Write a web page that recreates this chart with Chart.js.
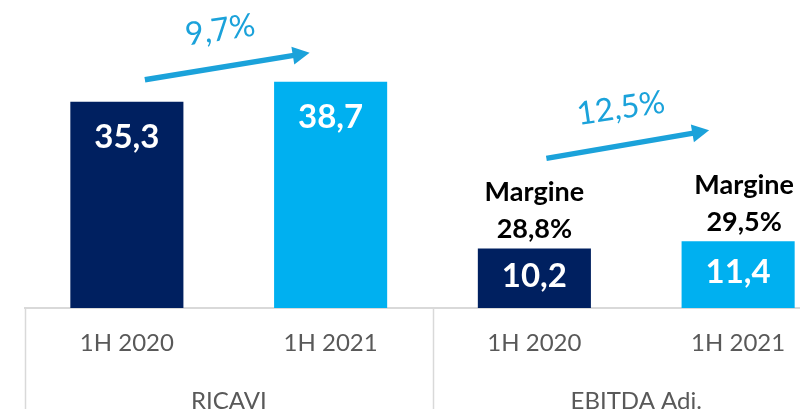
<!DOCTYPE html>
<html>
<head>
<meta charset="utf-8">
<script src="https://cdn.jsdelivr.net/npm/chart.js@4.4.0/dist/chart.umd.min.js"></script>
<style>
  html, body { margin: 0; padding: 0; background: #ffffff; overflow: hidden; width: 800px; height: 409px; }
  #wrap { width: 840px; height: 409px; }
</style>
</head>
<body>
<div id="wrap"><canvas id="c" width="840" height="409"></canvas></div>
<script>
// ---- data ----
const categories = ['1H 2020', '1H 2021', '1H 2020', '1H 2021'];
const groups = ['RICAVI', 'EBITDA Adj.'];
const values = [35.3, 38.7, 10.2, 11.4];
const margins = [null, null, '28,8%', '29,5%'];
const growthLabels = ['9,7%', '12,5%'];
const growthPairs = [[0, 1], [2, 3]];

// ---- style ----
const DARK = '#002060';
const LIGHT = '#00B0F0';
const ARROW = '#1ba2da';
const barColors = [DARK, LIGHT, DARK, LIGHT];
const arrowOffsets = [
  { sx: 18, sy: -22, ex: -21, ey: -29 },
  { sx: 12, sy: -90, ex: -29, ey: -111 }
];

function fmt(v) { return v.toFixed(1).replace('.', ','); }

const annot = {
  id: 'annot',
  afterDatasetsDraw(chart) {
    const ctx = chart.ctx;
    const bars = chart.getDatasetMeta(0).data;
    ctx.save();
    // value labels inside bars
    ctx.textAlign = 'center';
    ctx.textBaseline = 'middle';
    ctx.fillStyle = '#ffffff';
    ctx.font = 'bold 33px Lato';
    bars.forEach((b, i) => {
      const mid = (b.y + b.base) / 2;
      const y = Math.min(b.y + 36, mid - 2);
      ctx.fillText(fmt(values[i]), b.x, y);
    });
    // margin labels
    ctx.fillStyle = '#000000';
    ctx.font = 'bold 27px Lato';
    bars.forEach((b, i) => {
      if (!margins[i]) return;
      const dx = i === 3 ? 6 : 0;
      ctx.fillText('Margine', b.x + dx, b.y - 56);
      ctx.fillText(margins[i], b.x + dx, b.y - 19);
    });
    // growth arrows
    growthPairs.forEach((p, k) => {
      const a = bars[p[0]], b = bars[p[1]], o = arrowOffsets[k];
      const x1 = a.x + o.sx, y1 = a.y + o.sy;
      const x2 = b.x + o.ex, y2 = b.y + o.ey;
      const ang = Math.atan2(y2 - y1, x2 - x1);
      const headLen = 17, headW = 9;
      const bx = x2 - headLen * Math.cos(ang), by = y2 - headLen * Math.sin(ang);
      ctx.strokeStyle = ARROW;
      ctx.fillStyle = ARROW;
      ctx.lineWidth = 5.5;
      ctx.lineCap = 'butt';
      ctx.beginPath();
      ctx.moveTo(x1, y1);
      ctx.lineTo(bx + 1 * Math.cos(ang), by + 1 * Math.sin(ang));
      ctx.stroke();
      ctx.beginPath();
      ctx.moveTo(x2, y2);
      ctx.lineTo(bx + headW * Math.sin(ang), by - headW * Math.cos(ang));
      ctx.lineTo(bx - headW * Math.sin(ang), by + headW * Math.cos(ang));
      ctx.closePath();
      ctx.fill();
      // label
      const mx = (x1 + x2) / 2, my = (y1 + y2) / 2;
      ctx.save();
      ctx.translate(mx - 7, my - 36);
      ctx.rotate(-8.3 * Math.PI / 180);
      ctx.font = '32px Lato';
      ctx.textAlign = 'center';
      ctx.textBaseline = 'middle';
      ctx.fillText(growthLabels[k], 0, 0);
      ctx.restore();
    });
    ctx.restore();
  },
  afterDraw(chart) {
    const ctx = chart.ctx;
    const xs = chart.scales.x;
    const top = chart.chartArea.bottom;
    const bottom = chart.height;
    const seps = [xs.left, (xs.getPixelForValue(1) + xs.getPixelForValue(2)) / 2, xs.right];
    ctx.save();
    ctx.strokeStyle = '#d9d9d9';
    ctx.lineWidth = 1.5;
    seps.forEach(x => {
      ctx.beginPath();
      ctx.moveTo(Math.round(x) + 0.5, top);
      ctx.lineTo(Math.round(x) + 0.5, bottom);
      ctx.stroke();
    });
    ctx.restore();
  }
};

new Chart(document.getElementById('c'), {
  type: 'bar',
  data: {
    labels: categories,
    datasets: [{
      data: values,
      backgroundColor: barColors,
      borderWidth: 0,
      categoryPercentage: 1.0,
      barPercentage: 0.555
    }]
  },
  options: {
    responsive: false,
    animation: false,
    devicePixelRatio: 1,
    layout: { padding: { left: 25, right: 0, top: 0, bottom: 0 } },
    plugins: { legend: { display: false }, tooltip: { enabled: false } },
    scales: {
      y: { display: false, min: 0, max: 52.7 },
      x: {
        weight: 0,
        grid: { display: false, drawTicks: false },
        border: { display: true, color: '#d9d9d9', width: 2 },
        ticks: { color: '#595959', font: { family: 'Lato', size: 24 }, padding: 21 },
        afterFit: s => { s.height = 60; }
      },
      x2: {
        type: 'category',
        labels: groups,
        position: 'bottom',
        offset: true,
        weight: 1,
        grid: { display: false, drawTicks: false },
        border: { display: false },
        ticks: { color: '#595959', font: { family: 'Lato', size: 24 }, padding: 19 },
        afterFit: s => { s.height = 41; }
      }
    }
  },
  plugins: [annot]
});
</script>
</body>
</html>
